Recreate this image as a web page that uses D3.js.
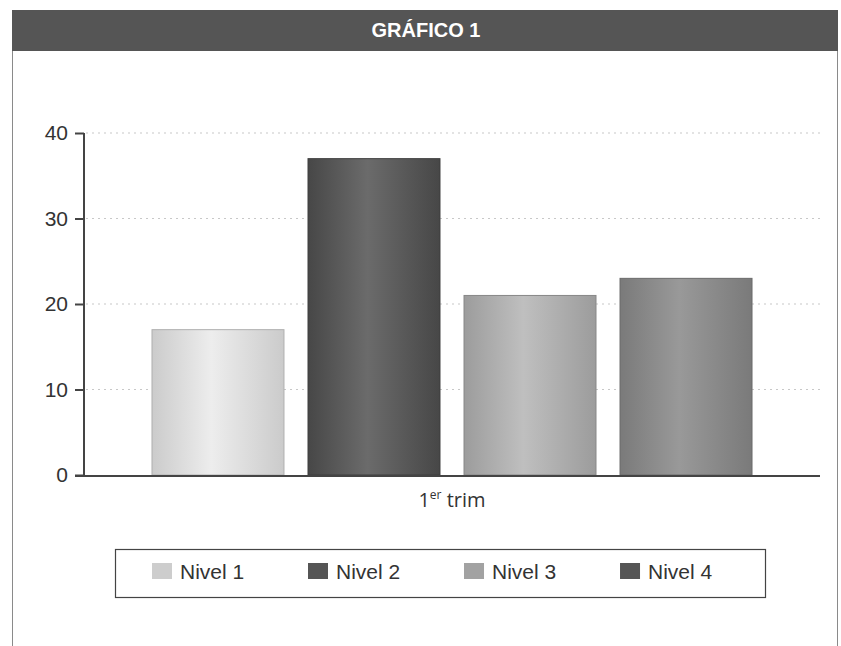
<!DOCTYPE html>
<html><head><meta charset="utf-8">
<script src="https://cdn.jsdelivr.net/npm/d3@7"></script>
<style>body{margin:0;background:#fff}svg{display:block;font-family:"Liberation Sans",Arial,sans-serif}</style>
</head><body>
<svg id="c" width="841" height="646"></svg>
<script>
const title = "GRÁFICO 1";
const categories = ["1er trim"];
const series = ["Nivel 1", "Nivel 2", "Nivel 3", "Nivel 4"];
const values = [17, 37, 21, 23];
const yTicks = [0, 10, 20, 30, 40];
const barEdge = ["#cbcbcb", "#474747", "#9c9c9c", "#7a7a7a"];
const barMid = ["#ededed", "#6b6b6b", "#bfbfbf", "#999999"];
const legendColors = ["#cdcdcd", "#555555", "#a2a2a2", "#555555"];

const svg = d3.select("#c");
// frame
svg.append("rect").attr("x", 12.5).attr("y", 10.5).attr("width", 825).attr("height", 660)
  .attr("fill", "#fff").attr("stroke", "#8a8a8a").attr("stroke-width", 1);
svg.append("rect").attr("x", 12).attr("y", 10).attr("width", 826).attr("height", 41).attr("fill", "#555");
svg.append("text").attr("x", 426).attr("y", 37).attr("text-anchor", "middle")
  .attr("fill", "#fff").attr("font-weight", "bold").attr("font-size", 20).text(title);

const y = d3.scaleLinear().domain([0, 40]).range([475, 133]);
const x0 = d3.scaleBand().domain(categories).range([84, 820]).paddingInner(0).paddingOuter(0.0897);
const x1 = d3.scaleBand().domain(series).range([0, x0.bandwidth()]).paddingInner(0.154).paddingOuter(0.077);

// gridlines
svg.append("g").selectAll("line").data(yTicks.filter(d => d > 0)).join("line")
  .attr("x1", 86).attr("x2", 820).attr("y1", d => y(d)).attr("y2", d => y(d))
  .attr("stroke", "#c8c8c8").attr("stroke-width", 1.2).attr("stroke-dasharray", "2,4");

// gradients
const defs = svg.append("defs");
series.forEach((s, i) => {
  const g = defs.append("linearGradient").attr("id", "g" + i).attr("x1", "0").attr("x2", "1").attr("y1", "0").attr("y2", "0");
  g.append("stop").attr("offset", "0%").attr("stop-color", barEdge[i]);
  g.append("stop").attr("offset", "45%").attr("stop-color", barMid[i]);
  g.append("stop").attr("offset", "100%").attr("stop-color", barEdge[i]);
});

// bars
const cat = categories[0];
svg.append("g").selectAll("rect").data(series).join("rect")
  .attr("x", s => x0(cat) + x1(s))
  .attr("y", (s, i) => y(values[i]))
  .attr("width", x1.bandwidth())
  .attr("height", (s, i) => y(0) - y(values[i]))
  .attr("fill", (s, i) => `url(#g${i})`)
  .attr("stroke", (s, i) => d3.color(barEdge[i]).darker(0.4))
  .attr("stroke-width", 1);

// y axis
const yAxis = d3.axisLeft(y).tickValues(yTicks).tickSize(9).tickPadding(7);
const ga = svg.append("g").attr("transform", "translate(84,0)").call(yAxis);
ga.select(".domain").attr("stroke", "#444").attr("stroke-width", 2).attr("d", "M0,133V475");
ga.selectAll(".tick line").attr("stroke", "#444").attr("stroke-width", 2);
ga.selectAll(".tick text").attr("font-size", 21).attr("fill", "#333").attr("font-family", "Liberation Sans, Arial, sans-serif");

// x axis line
svg.append("line").attr("x1", 75).attr("x2", 820).attr("y1", y(0) + 1).attr("y2", y(0) + 1)
  .attr("stroke", "#444").attr("stroke-width", 2);

// category label
const cl = svg.append("text").attr("x", x0(cat) + x0.bandwidth() / 2).attr("y", 507)
  .attr("text-anchor", "middle").attr("font-size", 20).attr("fill", "#333")
  .attr("font-family", "'Open Sans', sans-serif");
cl.append("tspan").text("1");
cl.append("tspan").attr("font-size", 12).attr("dy", -8).text("er");
cl.append("tspan").attr("dy", 8).text(" trim");

// legend
svg.append("rect").attr("x", 115.5).attr("y", 549.5).attr("width", 650).attr("height", 48)
  .attr("fill", "#fff").attr("stroke", "#444").attr("stroke-width", 1.2);
const lg = svg.append("g").selectAll("g").data(series).join("g")
  .attr("transform", s => `translate(${x0(cat) + x1(s)},563)`);
lg.append("rect").attr("width", 20).attr("height", 16).attr("fill", (s, i) => legendColors[i]);
lg.append("text").attr("x", 28).attr("y", 16).attr("font-size", 21).attr("fill", "#333").text(s => s);
</script>
</body></html>
